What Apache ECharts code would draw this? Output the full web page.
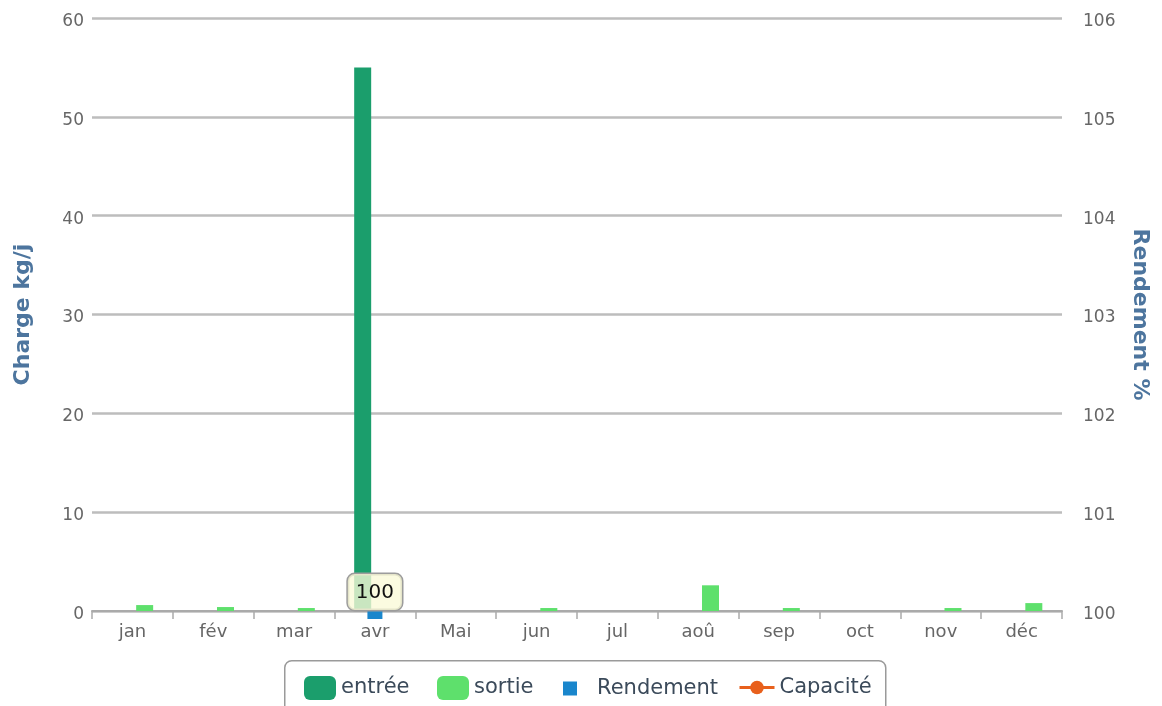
<!DOCTYPE html>
<html>
<head>
<meta charset="utf-8">
<title>Charge et rendement</title>
<script src="https://cdn.jsdelivr.net/npm/echarts@6/dist/echarts.min.js"></script>
<style>
  html, body { margin: 0; padding: 0; background: #ffffff; }
  #chart { width: 1162px; height: 706px; }
</style>
</head>
<body>
<div id="chart"></div>
<script>
// Monthly loads (kg/j) in and out, plus efficiency (%) on the right axis
const months = ['jan', 'fév', 'mar', 'avr', 'Mai', 'jun', 'jul', 'aoû', 'sep', 'oct', 'nov', 'déc'];
const entree = [0, 0, 0, 55, 0, 0, 0, 0, 0, 0, 0, 0];
const sortie = [0.6, 0.4, 0.3, 0, 0, 0.3, 0, 2.6, 0.3, 0, 0.3, 0.8];
const rendement = [null, null, null, 100, null, null, null, null, null, null, null, null];
const capacite = [null, null, null, null, null, null, null, null, null, null, null, null];

const chargeTicks = { min: 0, max: 60, interval: 10 };
const rendementTicks = { min: 100, max: 106, interval: 1 };

const FONT = '"DejaVu Sans", Verdana, sans-serif';
const COLORS = {
  entree: '#1b9e6c',
  sortie: '#5ee06c',
  rendement: '#1a86cc',
  capacite: '#e8601c'
};

const chart = echarts.init(document.getElementById('chart'));

const legendText = { fontFamily: FONT, fontSize: 21, color: '#3b4a5a' };
const tickLabel = { fontFamily: FONT, fontSize: 18, color: '#666666' };
const axisTitle = { fontFamily: FONT, fontSize: 22, fontWeight: 'bold', color: '#4d759e' };
// y-axis values sit a little below their grid line
const yTickLabel = Object.assign({
  formatter: '{v|{value}}',
  rich: { v: Object.assign({ padding: [7, 0, 0, 0] }, tickLabel, { fontSize: 17 }) }
}, tickLabel);

chart.setOption({
  backgroundColor: '#ffffff',
  animation: false,
  grid: { left: 92, right: 100, top: 18, bottom: 95, containLabel: false },
  graphic: [{
    type: 'rect',
    left: 284,
    top: 660,
    z: 1,
    shape: { width: 601, height: 60, r: 7 },
    style: { fill: '#ffffff', stroke: '#9a9a9a', lineWidth: 1.5 }
  }],
  legend: [
    { data: ['entrée'], left: 299, top: 671, itemWidth: 32, itemHeight: 24,
      textStyle: legendText, selectedMode: false },
    { data: ['sortie'], left: 432, top: 671, itemWidth: 32, itemHeight: 24,
      textStyle: legendText, selectedMode: false },
    { data: [{ name: 'Rendement', icon: 'rect' }], left: 558, top: 673, itemWidth: 14, itemHeight: 14,
      textStyle: Object.assign({ padding: [0, 0, 0, 15] }, legendText), selectedMode: false },
    { data: ['Capacité'], left: 733, top: 672, itemWidth: 35, itemHeight: 17,
      lineStyle: { width: 3 },
      textStyle: legendText, selectedMode: false }
  ],
  xAxis: {
    type: 'category',
    data: months,
    boundaryGap: true,
    axisLine: { lineStyle: { color: '#aaaaaa', width: 2 } },
    axisTick: { show: true, interval: 0, length: 8, lineStyle: { color: '#aaaaaa', width: 1.5 } },
    axisLabel: Object.assign({ margin: 12, interval: 0 }, tickLabel),
    splitLine: { show: false }
  },
  yAxis: [
    {
      type: 'value',
      position: 'left',
      min: chargeTicks.min,
      max: chargeTicks.max,
      interval: chargeTicks.interval,
      name: 'Charge kg/j',
      nameLocation: 'middle',
      nameGap: 58,
      nameRotate: 90,
      nameTextStyle: axisTitle,
      axisLine: { show: false },
      axisTick: { show: false },
      axisLabel: Object.assign({ margin: 8 }, yTickLabel),
      splitLine: { lineStyle: { color: '#bdbdbd', width: 2.5 } }
    },
    {
      type: 'value',
      position: 'right',
      min: rendementTicks.min,
      max: rendementTicks.max,
      interval: rendementTicks.interval,
      name: 'Rendement %',
      nameLocation: 'middle',
      nameGap: 67,
      nameRotate: -90,
      nameTextStyle: axisTitle,
      axisLine: { show: false },
      axisTick: { show: false },
      axisLabel: Object.assign({ margin: 21 }, yTickLabel),
      splitLine: { show: false }
    }
  ],
  series: [
    {
      name: 'entrée',
      type: 'bar',
      yAxisIndex: 0,
      data: entree,
      barWidth: 17,
      barGap: '44%',
      itemStyle: { color: COLORS.entree }
    },
    {
      name: 'sortie',
      type: 'bar',
      yAxisIndex: 0,
      data: sortie,
      barWidth: 17,
      barGap: '44%',
      itemStyle: { color: COLORS.sortie }
    },
    {
      name: 'Rendement',
      type: 'scatter',
      yAxisIndex: 1,
      data: rendement,
      symbol: 'rect',
      symbolSize: [15, 8],
      symbolOffset: [0, 4],
      clip: false,
      z: 5,
      itemStyle: { color: COLORS.rendement, opacity: 1 },
      label: {
        show: true,
        position: 'top',
        distance: 1,
        formatter: '{c}',
        fontFamily: FONT,
        fontSize: 20,
        color: '#111111',
        backgroundColor: 'rgba(250, 250, 215, 0.78)',
        borderColor: '#9c9c9c',
        borderWidth: 1.5,
        borderRadius: 7,
        padding: [9, 8, 7, 8]
      }
    },
    {
      name: 'Capacité',
      type: 'line',
      yAxisIndex: 1,
      data: capacite,
      symbol: 'circle',
      symbolSize: 11,
      lineStyle: { color: COLORS.capacite, width: 3 },
      itemStyle: { color: COLORS.capacite }
    }
  ]
});
</script>
</body>
</html>
